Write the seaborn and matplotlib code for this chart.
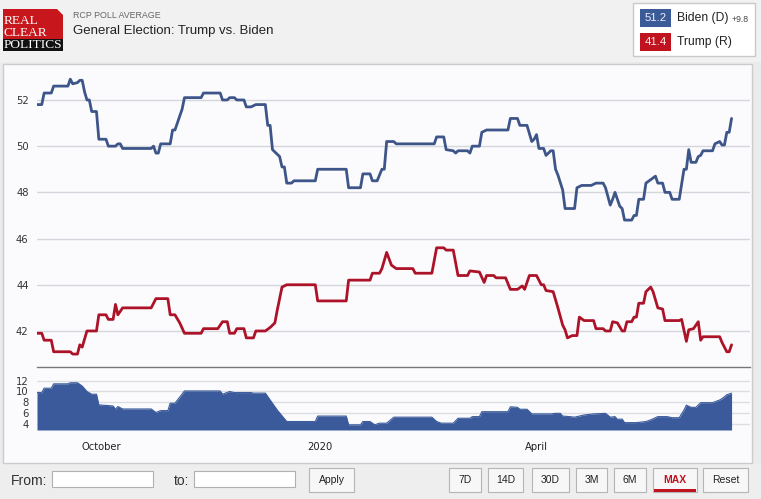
import pandas as pd
import seaborn as sns
import matplotlib.pyplot as plt
import matplotlib.patches as mpatches

# ---- values (Sep 2019 - Jun 2020) ----
biden_dates = [
    "2019-09-04", "2019-09-06", "2019-09-07", "2019-09-10", "2019-09-11", "2019-09-17", "2019-09-18",
    "2019-09-19", "2019-09-21", "2019-09-22", "2019-09-23", "2019-09-24", "2019-09-25", "2019-09-26",
    "2019-09-27", "2019-09-29", "2019-09-30",
    "2019-10-03", "2019-10-04", "2019-10-07", "2019-10-08", "2019-10-09", "2019-10-10", "2019-10-22",
    "2019-10-23", "2019-10-24", "2019-10-25", "2019-10-26", "2019-10-30", "2019-10-31",
    "2019-11-01", "2019-11-03", "2019-11-04", "2019-11-05", "2019-11-12", "2019-11-13", "2019-11-20",
    "2019-11-21", "2019-11-23", "2019-11-24", "2019-11-26", "2019-11-27", "2019-11-30",
    "2019-12-01", "2019-12-03", "2019-12-05", "2019-12-09", "2019-12-10", "2019-12-11", "2019-12-12",
    "2019-12-14", "2019-12-15", "2019-12-16", "2019-12-17", "2019-12-18", "2019-12-20", "2019-12-21",
    "2019-12-30", "2019-12-31",
    "2020-01-12", "2020-01-13", "2020-01-18", "2020-01-19", "2020-01-22", "2020-01-23", "2020-01-25",
    "2020-01-27", "2020-01-28", "2020-01-29",
    "2020-02-01", "2020-02-02", "2020-02-18", "2020-02-19", "2020-02-22", "2020-02-23", "2020-02-26",
    "2020-02-27", "2020-02-28",
    "2020-03-03", "2020-03-04", "2020-03-05", "2020-03-08", "2020-03-09", "2020-03-11", "2020-03-20",
    "2020-03-21", "2020-03-24", "2020-03-25", "2020-03-28", "2020-03-30", "2020-03-31",
    "2020-04-01", "2020-04-02", "2020-04-04", "2020-04-05", "2020-04-07", "2020-04-08", "2020-04-09",
    "2020-04-10", "2020-04-12", "2020-04-13", "2020-04-17", "2020-04-18", "2020-04-20", "2020-04-24",
    "2020-04-26", "2020-04-29", "2020-04-30",
    "2020-05-02", "2020-05-03", "2020-05-04", "2020-05-06", "2020-05-07", "2020-05-08", "2020-05-11",
    "2020-05-12", "2020-05-13", "2020-05-14", "2020-05-16", "2020-05-17", "2020-05-19", "2020-05-21",
    "2020-05-22", "2020-05-24", "2020-05-25", "2020-05-27", "2020-05-28", "2020-05-31",
    "2020-06-02", "2020-06-03", "2020-06-04", "2020-06-05", "2020-06-07", "2020-06-08", "2020-06-09",
    "2020-06-10", "2020-06-14", "2020-06-15", "2020-06-17", "2020-06-18", "2020-06-19", "2020-06-20",
    "2020-06-21", "2020-06-22",
]
biden_vals = [
    51.8, 51.8, 52.3, 52.3, 52.6, 52.6, 52.9, 52.7, 52.75, 52.85, 52.85, 52.35, 52.0, 52.0, 51.5, 51.5, 50.3,
    50.3, 50.0, 50.0, 50.1, 50.1, 49.9, 49.9, 50.0, 49.7, 49.7, 50.1, 50.1, 50.7,
    50.7, 51.3, 51.6, 52.1, 52.1, 52.3, 52.3, 52.0, 52.0, 52.1, 52.1, 52.0, 52.0,
    51.7, 51.7, 51.8, 51.8, 50.9, 50.9, 49.85, 49.65, 49.55, 49.1, 49.1, 48.4, 48.4, 48.5, 48.5, 49.0,
    49.0, 48.2, 48.2, 48.8, 48.8, 48.5, 48.5, 49.0, 49.0, 50.2,
    50.2, 50.1, 50.1, 50.4, 50.4, 49.85, 49.8, 49.7, 49.8,
    49.8, 49.7, 50.0, 50.0, 50.6, 50.7, 50.7, 51.2, 51.2, 50.9, 50.9, 50.2, 50.3,
    50.5, 49.9, 49.9, 49.6, 49.8, 49.8, 49.0, 48.75, 48.1, 47.3, 47.3, 48.2, 48.3, 48.3, 48.4, 48.4, 48.2,
    47.45, 47.7, 48.0, 47.4, 47.3, 46.8, 46.8, 47.0, 47.0, 47.7, 47.7, 48.4, 48.55, 48.7, 48.4, 48.4,
    48.0, 48.0, 47.7, 47.7,
    49.0, 49.0, 49.85, 49.3, 49.3, 49.55, 49.6, 49.8, 49.8, 50.1, 50.2, 50.05, 50.05, 50.6, 50.6, 51.2,
]

trump_dates = [
    "2019-09-04", "2019-09-06", "2019-09-07", "2019-09-10", "2019-09-11", "2019-09-18", "2019-09-19",
    "2019-09-21", "2019-09-22", "2019-09-23", "2019-09-25", "2019-09-29", "2019-09-30",
    "2019-10-03", "2019-10-04", "2019-10-06", "2019-10-07", "2019-10-08", "2019-10-10", "2019-10-22",
    "2019-10-24", "2019-10-29", "2019-10-30",
    "2019-11-01", "2019-11-03", "2019-11-05", "2019-11-12", "2019-11-13", "2019-11-19", "2019-11-21",
    "2019-11-23", "2019-11-24", "2019-11-26", "2019-11-27", "2019-11-30",
    "2019-12-01", "2019-12-04", "2019-12-05", "2019-12-09", "2019-12-11", "2019-12-13", "2019-12-14",
    "2019-12-16", "2019-12-18", "2019-12-30", "2019-12-31",
    "2020-01-12", "2020-01-13", "2020-01-22", "2020-01-23", "2020-01-26", "2020-01-27", "2020-01-29",
    "2020-01-31",
    "2020-02-02", "2020-02-09", "2020-02-10", "2020-02-17", "2020-02-19", "2020-02-22", "2020-02-23",
    "2020-02-26", "2020-02-28",
    "2020-03-03", "2020-03-04", "2020-03-08", "2020-03-10", "2020-03-11", "2020-03-14", "2020-03-15",
    "2020-03-19", "2020-03-21", "2020-03-24", "2020-03-26", "2020-03-27", "2020-03-29",
    "2020-04-01", "2020-04-03", "2020-04-04", "2020-04-05", "2020-04-08", "2020-04-10", "2020-04-12",
    "2020-04-13", "2020-04-14", "2020-04-16", "2020-04-18", "2020-04-19", "2020-04-21", "2020-04-25",
    "2020-04-26", "2020-04-29", "2020-04-30",
    "2020-05-02", "2020-05-03", "2020-05-05", "2020-05-07", "2020-05-08", "2020-05-09", "2020-05-11",
    "2020-05-12", "2020-05-13", "2020-05-14", "2020-05-16", "2020-05-17", "2020-05-19", "2020-05-20",
    "2020-05-22", "2020-05-24", "2020-05-25", "2020-05-31",
    "2020-06-01", "2020-06-03", "2020-06-04", "2020-06-06", "2020-06-07", "2020-06-08", "2020-06-09",
    "2020-06-10", "2020-06-17", "2020-06-18", "2020-06-20", "2020-06-21", "2020-06-22",
]
trump_vals = [
    41.9, 41.9, 41.6, 41.6, 41.1, 41.1, 41.0, 41.0, 41.4, 41.3, 42.0, 42.0, 42.7,
    42.7, 42.5, 42.5, 43.15, 42.7, 43.0, 43.0, 43.4, 43.4, 42.7,
    42.7, 42.35, 41.9, 41.9, 42.1, 42.1, 42.4, 42.4, 41.9, 41.9, 42.1, 42.1,
    41.7, 41.7, 42.0, 42.0, 42.15, 42.35, 42.9, 43.9, 44.0, 44.0, 43.3,
    43.3, 44.2, 44.2, 44.5, 44.5, 44.7, 45.4, 44.85,
    44.7, 44.7, 44.5, 44.5, 45.6, 45.6, 45.5, 45.5, 44.4,
    44.4, 44.6, 44.55, 44.1, 44.4, 44.4, 44.3, 44.3, 43.8, 43.8, 43.95, 43.8, 44.4,
    44.4, 44.0, 44.0, 43.75, 43.7, 43.0, 42.25, 42.05, 41.7, 41.8, 41.8, 42.6, 42.45, 42.45, 42.1, 42.1, 42.0,
    42.0, 42.4, 42.35, 42.0, 42.0, 42.4, 42.4, 42.6, 42.6, 43.2, 43.2, 43.7, 43.9, 43.7, 43.0, 42.95,
    42.45, 42.45,
    42.5, 41.55, 42.05, 42.1, 42.25, 42.4, 41.6, 41.75, 41.75, 41.5, 41.1, 41.1, 41.4,
]

spread_dates = [
    "2019-09-04", "2019-09-06", "2019-09-07", "2019-09-10", "2019-09-11", "2019-09-17", "2019-09-18",
    "2019-09-21", "2019-09-23", "2019-09-25", "2019-09-27", "2019-09-29", "2019-09-30",
    "2019-10-06", "2019-10-07", "2019-10-08", "2019-10-10", "2019-10-22", "2019-10-24", "2019-10-26",
    "2019-10-29", "2019-10-30",
    "2019-11-01", "2019-11-05", "2019-11-20", "2019-11-21", "2019-11-24", "2019-11-26",
    "2019-12-03", "2019-12-04", "2019-12-09", "2019-12-11", "2019-12-14", "2019-12-18", "2019-12-30",
    "2019-12-31",
    "2020-01-12", "2020-01-13", "2020-01-18", "2020-01-19", "2020-01-22", "2020-01-24", "2020-01-26",
    "2020-01-29",
    "2020-02-01", "2020-02-17", "2020-02-19", "2020-02-21", "2020-02-26", "2020-02-28",
    "2020-03-04", "2020-03-05", "2020-03-08", "2020-03-09", "2020-03-20", "2020-03-21", "2020-03-24",
    "2020-03-25", "2020-03-28", "2020-03-30",
    "2020-04-07", "2020-04-09", "2020-04-11", "2020-04-12", "2020-04-15", "2020-04-17", "2020-04-21",
    "2020-04-25", "2020-04-30",
    "2020-05-02", "2020-05-04", "2020-05-05", "2020-05-07", "2020-05-08", "2020-05-13", "2020-05-17",
    "2020-05-19", "2020-05-22", "2020-05-26", "2020-05-28", "2020-05-31",
    "2020-06-02", "2020-06-03", "2020-06-05", "2020-06-07", "2020-06-09", "2020-06-14", "2020-06-17",
    "2020-06-18", "2020-06-20", "2020-06-22",
]
spread_vals = [
    9.8, 9.8, 10.6, 10.6, 11.4, 11.4, 11.6, 11.6, 11.0, 10.0, 9.5, 9.5, 7.55,
    7.35, 6.75, 7.25, 6.8, 6.8, 6.15, 6.5, 6.5, 7.85,
    7.85, 10.1, 10.1, 9.5, 10.0, 9.8,
    9.8, 9.7, 9.7, 8.45, 6.6, 4.5, 4.5, 5.5,
    5.5, 3.9, 3.9, 4.5, 4.5, 3.9, 4.2, 4.2,
    5.3, 5.3, 4.5, 4.2, 4.2, 5.1,
    5.1, 5.4, 5.4, 6.3, 6.3, 7.2, 7.1, 6.75, 6.75, 5.9,
    5.9, 6.0, 6.0, 5.5, 5.4, 5.3, 5.7, 5.9, 6.0,
    5.3, 5.4, 4.9, 4.95, 4.3, 4.3, 4.5, 4.8, 5.4, 5.4, 5.2, 5.2,
    6.6, 7.5, 7.1, 7.1, 7.95, 7.95, 8.45, 8.7, 9.4, 9.7,
]

main_yticks = [42, 44, 46, 48, 50, 52]
spread_yticks = [4, 6, 8, 10, 12]
x_tick_dates = ["2019-10-01", "2020-01-01", "2020-04-01"]
x_tick_labels = ["October", "2020", "April"]

biden_last, trump_last, lead = "51.2", "41.4", "+9.8"
header_small = "RCP POLL AVERAGE"
header_title = "General Election: Trump vs. Biden"
range_buttons = ["7D", "14D", "30D", "3M", "6M", "MAX", "Reset"]

# ---- colours ----
BLUE = "#3d5588"
RED = "#ad1328"
FILL = "#3a5a9b"
LEG_BLUE = "#3b5a98"
LEG_RED = "#c0131f"

biden = pd.DataFrame({"date": pd.to_datetime(biden_dates), "value": biden_vals})
trump = pd.DataFrame({"date": pd.to_datetime(trump_dates), "value": trump_vals})
spread = pd.DataFrame({"date": pd.to_datetime(spread_dates), "value": spread_vals})

W, H = 761, 499
sns.set_theme(style="white")
plt.rcParams["font.family"] = ["DejaVu Sans"]

fig = plt.figure(figsize=(W / 100, H / 100), dpi=100)
fig.patch.set_facecolor("#ebebeb")


def fx(x):
    return x / W


def fy(y):
    return 1 - y / H


def box(x0, y0, x1, y1, **kw):
    r = mpatches.Rectangle((fx(x0), fy(y1)), (x1 - x0) / W, (y1 - y0) / H,
                           transform=fig.transFigure, **kw)
    fig.patches.append(r)


# page background pieces
box(0, 0, W, 62, facecolor="#f1f1f1", lw=0, zorder=-8)
box(3, 64, 752, 463, facecolor="#fbfbfd", edgecolor="#cbcbcb", lw=1, zorder=-5)
box(0, 464, W, H, facecolor="#eeeeee", lw=0, zorder=-8)

xmin, xmax = pd.Timestamp("2019-09-04"), pd.Timestamp("2020-06-29 18:00")

# ---- main chart ----
ax = fig.add_axes([fx(37), fy(367), (750 - 37) / W, (367 - 66) / H])
ax.set_facecolor("none")
sns.lineplot(data=biden, x="date", y="value", ax=ax, color=BLUE, lw=2.0,
             estimator=None, sort=False)
sns.lineplot(data=trump, x="date", y="value", ax=ax, color=RED, lw=2.0,
             estimator=None, sort=False)
ax.set_xlim(xmin, xmax)
ax.set_ylim(40.44, 53.47)
ax.set_yticks(main_yticks)
ax.set_xticks([])
ax.grid(axis="y", color="#d5d7de", lw=1)
ax.set_xlabel("")
ax.set_ylabel("")
for s in ["top", "left", "right"]:
    ax.spines[s].set_visible(False)
ax.spines["bottom"].set_color("#777777")
ax.spines["bottom"].set_linewidth(1)
ax.tick_params(axis="y", length=0, pad=6, labelsize=7.2, labelcolor="#333333")

# ---- spread strip ----
ax2 = fig.add_axes([fx(37), fy(430), (750 - 37) / W, (430 - 368) / H])
ax2.set_facecolor("none")
sns.lineplot(data=spread, x="date", y="value", ax=ax2, color=FILL, lw=0.8,
             estimator=None, sort=False)
ax2.fill_between(spread["date"], spread["value"], 2.95, color=FILL, lw=0, zorder=2)
ax2.set_xlim(xmin, xmax)
ax2.set_ylim(2.95, 14.3)
ax2.set_yticks(spread_yticks)
ax2.grid(axis="y", color="#dcdde3", lw=1)
ax2.set_xticks(pd.to_datetime(x_tick_dates))
ax2.set_xticklabels(x_tick_labels)
ax2.set_xlabel("")
ax2.set_ylabel("")
for s in ax2.spines.values():
    s.set_visible(False)
ax2.tick_params(axis="y", length=0, pad=6, labelsize=7.2, labelcolor="#333333")
ax2.tick_params(axis="x", length=0, pad=9, labelsize=7.2, labelcolor="#222222")

# ---- logo ----
fig.patches.append(mpatches.Polygon(
    [(fx(3), fy(9)), (fx(57), fy(9)), (fx(63), fy(15)), (fx(63), fy(39)), (fx(3), fy(39))],
    closed=True, transform=fig.transFigure, facecolor="#c8161d", lw=0))
box(3, 39, 63, 51, facecolor="#111111", lw=0)
serif = ["Liberation Serif", "DejaVu Serif"]
fig.text(fx(4), fy(20.5), "REAL", family=serif, size=9.6, color="white", va="center")
fig.text(fx(4), fy(32.5), "CLEAR", family=serif, size=9.6, color="white", va="center")
fig.text(fx(3.5), fy(45.5), "POLITICS", family=serif, size=9.6, color="white", va="center")

sans = ["Liberation Sans", "DejaVu Sans"]
fig.text(fx(73), fy(15), header_small, family=sans, size=6.4, color="#666666", va="center")
fig.text(fx(73), fy(31), header_title, family=sans, size=9.5, color="#222222", va="center")

# ---- legend box ----
box(633, 3, 755, 56, facecolor="white", edgecolor="#c9c9c9", lw=1)
box(640, 9, 671, 27, facecolor=LEG_BLUE, lw=0)
box(640, 33, 671, 51, facecolor=LEG_RED, lw=0)
fig.text(fx(655.5), fy(18), biden_last, family=sans, size=8.2, color="#eef0f8", ha="center", va="center")
fig.text(fx(655.5), fy(42), trump_last, family=sans, size=8.2, color="#f8e8e8", ha="center", va="center")
fig.text(fx(677), fy(18), "Biden (D)", family=sans, size=8.7, color="#222222", va="center")
fig.text(fx(677), fy(42), "Trump (R)", family=sans, size=8.7, color="#222222", va="center")
fig.text(fx(732), fy(19), lead, family=sans, size=6.2, color="#444444", va="center")

# ---- controls strip ----
narrow = ["Liberation Sans Narrow", "Liberation Sans"]
fig.text(fx(11), fy(481), "From:", family=narrow, size=10, color="#333333", va="center")
box(52, 471, 153, 487, facecolor="white", edgecolor="#b0b0b0", lw=0.8)
fig.text(fx(174), fy(481), "to:", family=narrow, size=10, color="#333333", va="center")
box(194, 471, 295, 487, facecolor="white", edgecolor="#b0b0b0", lw=0.8)
box(309, 468, 354, 492, facecolor="#f7f7f7", edgecolor="#b5b5b5", lw=0.8)
fig.text(fx(331.5), fy(480), "Apply", family=narrow, size=7.5, color="#222222", ha="center", va="center")

btn_x = [(449, 481), (488, 523), (532, 569), (576, 607), (614, 646), (653, 697), (703, 748)]
for label, (x0, x1) in zip(range_buttons, btn_x):
    box(x0, 468, x1, 492, facecolor="#f7f7f7", edgecolor="#b5b5b5", lw=0.8)
    if label == "MAX":
        box(x0 + 1, 489, x1 - 1, 492, facecolor=LEG_RED, lw=0)
        fig.text(fx((x0 + x1) / 2), fy(480), label, family=narrow, size=7.5, color=LEG_RED,
                 weight="bold", ha="center", va="center")
    else:
        fig.text(fx((x0 + x1) / 2), fy(480), label, family=narrow, size=7.5, color="#222222",
                 ha="center", va="center")

fig.savefig("out.png", dpi=100, facecolor=fig.get_facecolor())
